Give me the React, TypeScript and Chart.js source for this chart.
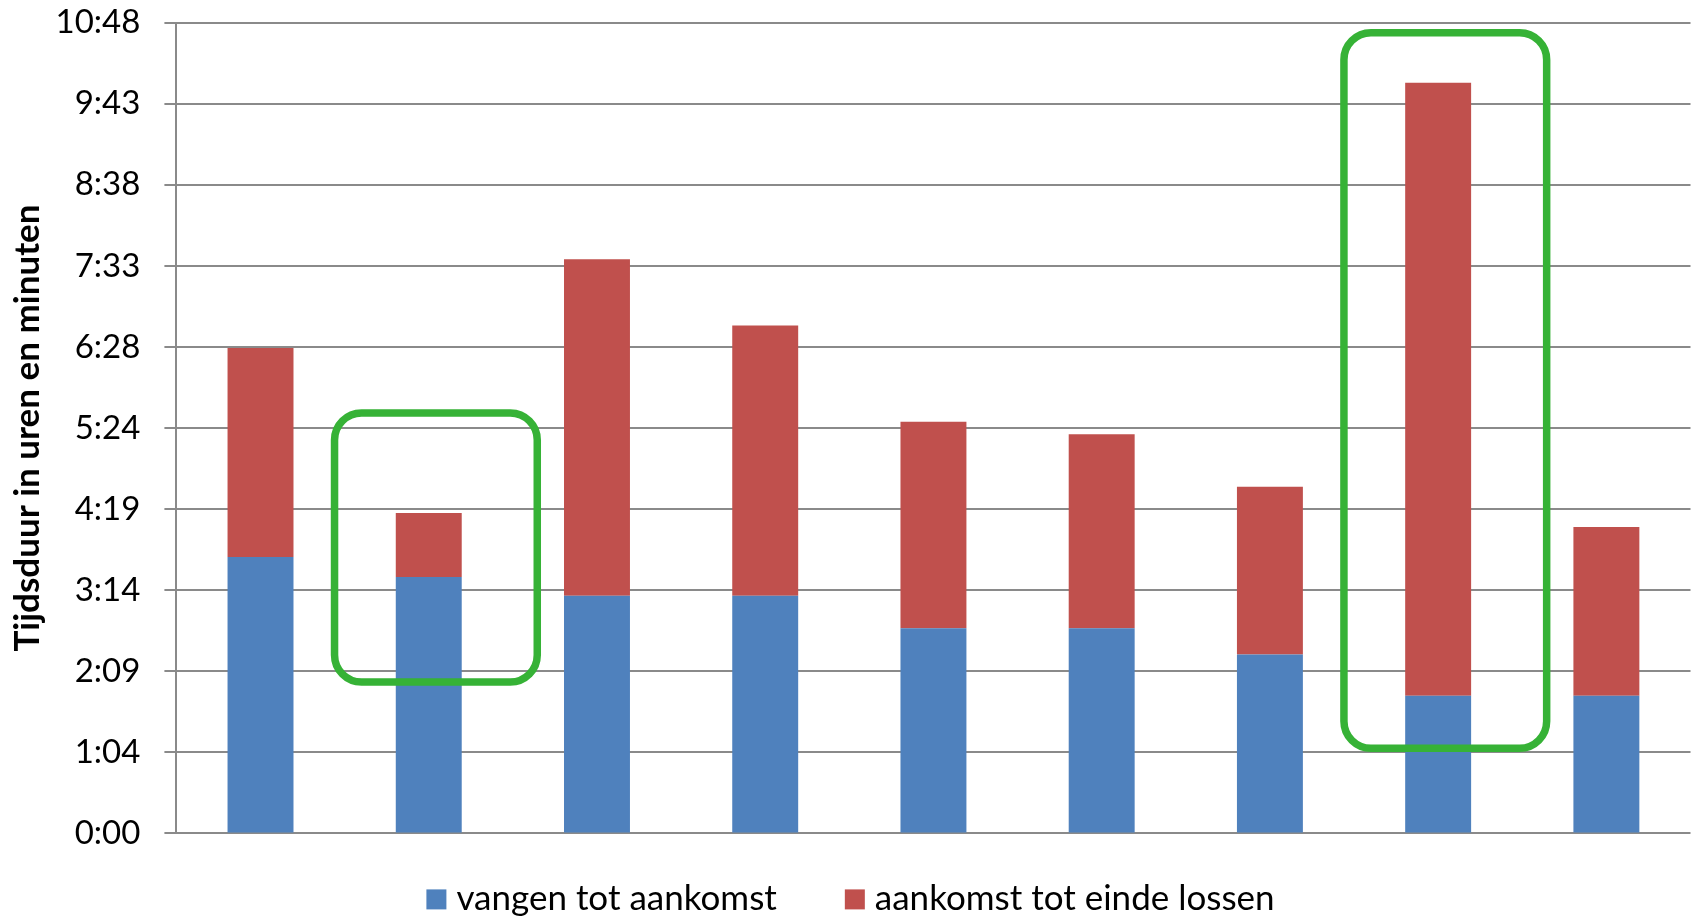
import React, { useEffect, useRef } from 'react';
import { Chart, registerables } from 'chart.js';

Chart.register(...registerables);

// Values in minutes (axis runs 0:00 .. 10:48)
const categories = ['1', '2', '3', '4', '5', '6', '7', '8', '9'];
const vangenTotAankomst = [221, 205, 190, 190, 164, 164, 143, 110, 110];
const aankomstTotEindeLossen = [167, 51, 269, 216, 165, 155, 134, 490, 135];
const yTickLabels = ['0:00', '1:04', '2:09', '3:14', '4:19', '5:24', '6:28', '7:33', '8:38', '9:43', '10:48'];
const yMax = 648;
const yStep = 64.8;
const seriesNames = ['vangen tot aankomst', 'aankomst tot einde lossen'];
const seriesColors = ['#4F81BD', '#C0504D'];
const yTitle = 'Tijdsduur in uren en minuten';
// highlighted bars (category index, low and high value in minutes)
const highlightIndex = [1, 7];
const highlightLow = [121, 68];
const highlightHigh = [336, 640];

const W = 1697;
const H = 918;

const highlightPlugin = {
  id: 'highlightBoxes',
  afterDatasetsDraw(chart: any) {
    const { ctx } = chart;
    const xs = chart.scales.x;
    const ys = chart.scales.y;
    const cat = xs.getPixelForValue(1) - xs.getPixelForValue(0);
    ctx.save();
    ctx.strokeStyle = '#36B236';
    ctx.lineWidth = 7.5;
    highlightIndex.forEach((idx, i) => {
      const cx = xs.getPixelForValue(idx);
      const left = cx - 0.56 * cat;
      const right = cx + 0.645 * cat;
      const top = ys.getPixelForValue(highlightHigh[i]);
      const bottom = ys.getPixelForValue(highlightLow[i]);
      ctx.beginPath();
      ctx.roundRect(left, top, right - left, bottom - top, 27);
      ctx.stroke();
    });
    ctx.restore();
  },
};

const legendPlugin = {
  id: 'customLegend',
  afterDraw(chart: any) {
    const { ctx } = chart;
    ctx.save();
    ctx.font = '35px Lato';
    const box = 20;
    const gapText = 10;
    const gapItem = 68;
    const widths = seriesNames.map((n) => ctx.measureText(n).width);
    const total = widths.reduce((a, w) => a + box + gapText + w, 0) + gapItem * (seriesNames.length - 1);
    let x = (chart.width - total) / 2 + 2;
    const cy = chart.chartArea.bottom + 66;
    ctx.textBaseline = 'alphabetic';
    ctx.textAlign = 'left';
    seriesNames.forEach((n, i) => {
      ctx.fillStyle = seriesColors[i];
      ctx.fillRect(x, cy - box / 2, box, box);
      ctx.fillStyle = '#000';
      ctx.fillText(n, x + box + gapText, cy + 10.5);
      x += box + gapText + widths[i] + gapItem;
    });
    ctx.restore();
  },
};

export default function App() {
  const ref = useRef<HTMLCanvasElement | null>(null);
  useEffect(() => {
    if (!ref.current) return;
    const chart = new Chart(ref.current, {
      type: 'bar',
      data: {
        labels: categories,
        datasets: [
          {
            label: seriesNames[0],
            data: vangenTotAankomst,
            backgroundColor: seriesColors[0],
            barPercentage: 0.392,
            categoryPercentage: 1,
          },
          {
            label: seriesNames[1],
            data: aankomstTotEindeLossen,
            backgroundColor: seriesColors[1],
            barPercentage: 0.392,
            categoryPercentage: 1,
          },
        ],
      },
      options: {
        animation: false,
        responsive: false,
        devicePixelRatio: 1,
        layout: { padding: { top: 22.7, right: 6.5, bottom: 84.6, left: 0 } },
        plugins: { legend: { display: false }, tooltip: { enabled: false } },
        scales: {
          x: { stacked: true, display: false },
          y: {
            stacked: true,
            min: 0,
            max: yMax,
            ticks: {
              stepSize: yStep,
              callback: (_v: any, i: number) => yTickLabels[i],
              font: { family: 'Lato', size: 33 },
              color: '#000',
              padding: 24,
            },
            grid: { color: '#8a8a8a', lineWidth: 2, tickLength: 12 },
            border: { display: true, color: '#8a8a8a', width: 2 },
            title: {
              display: true,
              text: yTitle,
              font: { family: 'Lato', weight: 'bold', size: 35 },
              color: '#000',
              padding: { top: 7, bottom: 0 },
            },
            afterFit: (s: any) => {
              s.width = 176.4;
              s.paddingTop = 0;
              s.paddingBottom = 0;
            },
          },
        },
      },
      plugins: [highlightPlugin, legendPlugin],
    } as any);
    return () => chart.destroy();
  }, []);
  return (
    <div style={{ position: 'fixed', left: 0, top: 0, width: W, height: H, background: '#fff' }}>
      <canvas ref={ref} width={W} height={H} style={{ width: W, height: H }} />
    </div>
  );
}
